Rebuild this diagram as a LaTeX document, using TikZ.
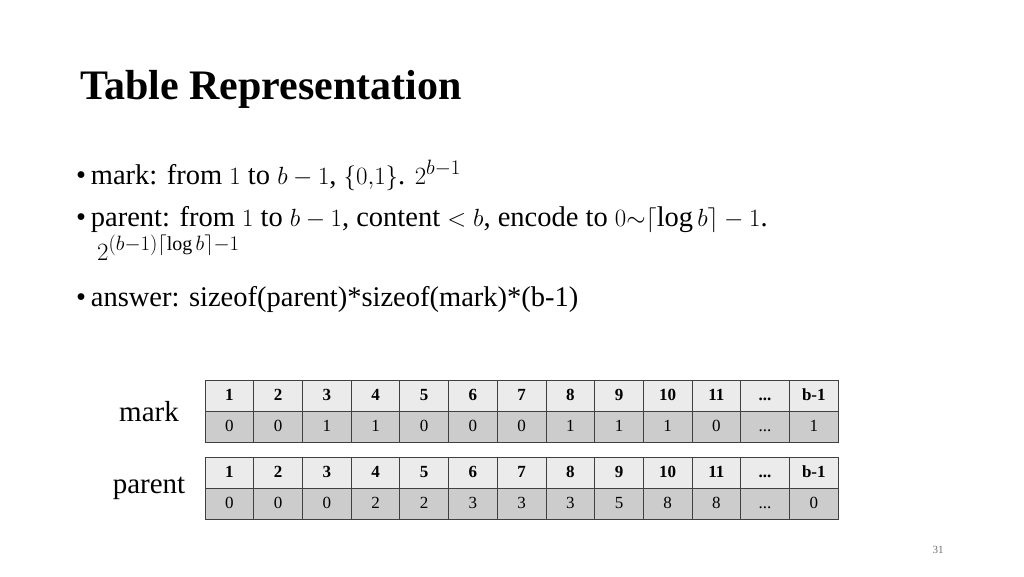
\documentclass[tikz,border=0pt]{standalone}
\usepackage{amsmath}
\usepackage{fontspec}
\setmainfont{Liberation Serif}
\begin{document}
\begin{tikzpicture}[x=1pt,y=-1pt,
  cell/.style={draw=black!75,line width=0.8pt,minimum width=48.7pt,minimum height=31pt,inner sep=0pt,text height=11.5pt,text depth=2pt},
  hdr/.style={cell,fill=black!8,font=\fontsize{17}{19}\selectfont\bfseries},
  val/.style={cell,fill=black!20,font=\fontsize{17}{19}\selectfont},
  bul/.style={anchor=base west,inner sep=0pt,font=\fontsize{28.5}{30}\selectfont},
  lab/.style={inner sep=0pt,font=\fontsize{29}{32}\selectfont}]
\useasboundingbox[fill=white] (0,0) rectangle (1024,576);
\node[anchor=base west,inner sep=0pt,font=\fontsize{42}{44}\selectfont\bfseries] (title) at (80,99) {Table Representation};
\node[bul] (b1) at (76,184) {\textbullet\,mark: from $1$ to $b-1$, $\{0{,}1\}$. $2^{b-1}$};
\node[bul] (b2) at (76,226) {\textbullet\,parent: from $1$ to $b-1$, content $<b$, encode to $0{\sim}\lceil\log b\rceil-1$.};
\node[bul] (b2b) at (97,260) {$2^{(b-1)\lceil\log b\rceil-1}$};
\node[bul] (b3) at (76,306) {\textbullet\,answer: sizeof(parent)*sizeof(mark)*(b-1)};
\node[lab] (lm) at (149,412) {mark};
\node[lab] (lp) at (149,488) {parent};
\foreach \h [count=\i] in {1,2,3,4,5,6,7,8,9,10,11,.{}..,b-1}
  \node[hdr] (mh\i) at (229.4+48.7*\i-48.7,395.5) {\h};
\foreach \v [count=\i] in {0,0,1,1,0,0,0,1,1,1,0,.{}..,1}
  \node[val] (mv\i) at (229.4+48.7*\i-48.7,426.5) {\v};
\foreach \h [count=\i] in {1,2,3,4,5,6,7,8,9,10,11,.{}..,b-1}
  \node[hdr] (ph\i) at (229.4+48.7*\i-48.7,472.5) {\h};
\foreach \v [count=\i] in {0,0,0,2,2,3,3,3,5,8,8,.{}..,0}
  \node[val] (pv\i) at (229.4+48.7*\i-48.7,503.5) {\v};
\node[font=\fontsize{11}{12}\selectfont,text=black!55] (pg) at (938,550) {31};
\end{tikzpicture}
\end{document}
